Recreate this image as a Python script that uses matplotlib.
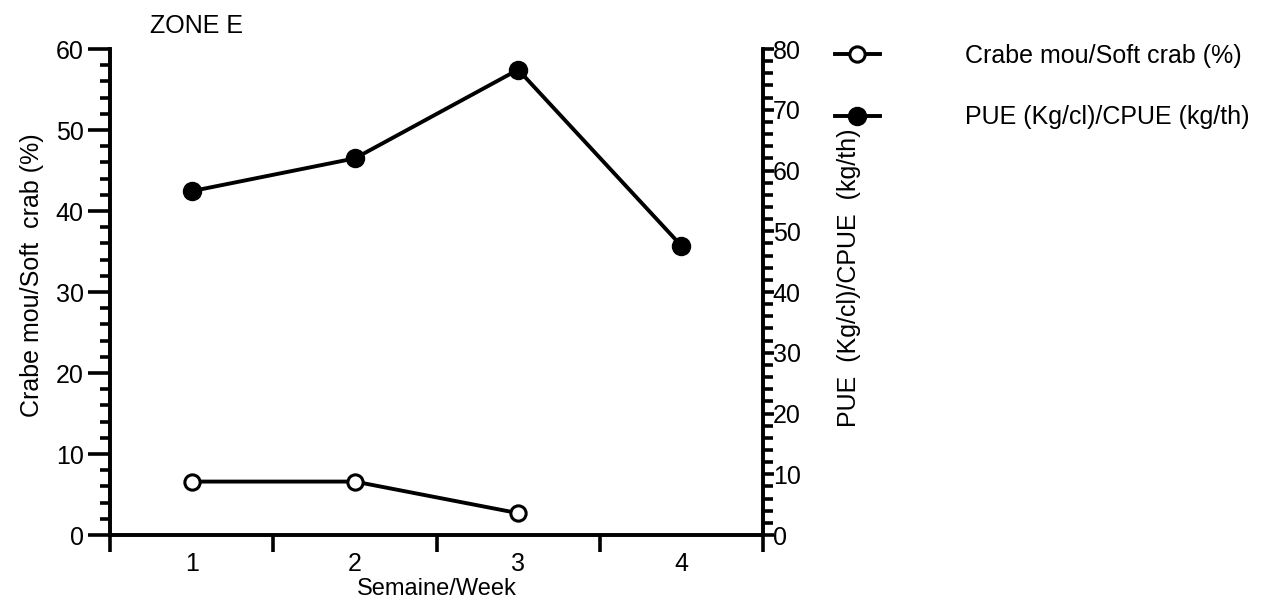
import matplotlib.pyplot as plt
from matplotlib.ticker import MultipleLocator, FixedLocator
from matplotlib.lines import Line2D

plt.rcParams['font.family'] = ['Liberation Sans', 'DejaVu Sans']

weeks = [1, 2, 3, 4]
soft_crab_weeks = [1, 2, 3]
soft_crab_pct = [6.6, 6.6, 2.7]
cpue = [56.6, 62.0, 76.6, 47.6]

fs = 18

fig = plt.figure(figsize=(12.79, 6.08), dpi=100)
ax = fig.add_axes([0.086, 0.12, 0.5106, 0.7994])
ax2 = ax.twinx()

ax.plot(soft_crab_weeks, soft_crab_pct, color='black', lw=2.8, marker='o',
        markersize=11, markerfacecolor='white', markeredgewidth=2.2, zorder=3)
ax2.plot(weeks, cpue, color='black', lw=2.8, marker='o',
         markersize=13, markerfacecolor='black', zorder=3)

ax.set_xlim(0.5, 4.5)
ax.set_ylim(0, 60)
ax2.set_ylim(0, 80)

for a in (ax, ax2):
    a.spines['top'].set_visible(False)
    for s in a.spines.values():
        s.set_linewidth(2.6)

ax.xaxis.set_major_locator(FixedLocator([0.5, 1.5, 2.5, 3.5, 4.5]))
ax.xaxis.set_minor_locator(FixedLocator(weeks))
ax.set_xticklabels([])
ax.set_xticklabels([str(w) for w in weeks], minor=True)
ax.tick_params(axis='x', which='major', length=12, width=2.6, direction='out')
ax.tick_params(axis='x', which='minor', length=0, labelsize=fs, pad=12)

ax.yaxis.set_major_locator(MultipleLocator(10))
ax.yaxis.set_minor_locator(MultipleLocator(2))
ax.tick_params(axis='y', which='major', length=16, width=2.6, labelsize=fs, pad=3)
ax.tick_params(axis='y', which='minor', length=7, width=2.6)

ax2.yaxis.set_major_locator(MultipleLocator(10))
ax2.yaxis.set_minor_locator(MultipleLocator(2))
ax2.tick_params(axis='y', which='major', length=8, width=2.6, labelsize=fs, pad=-1)
ax2.tick_params(axis='y', which='minor', length=7, width=2.6)

ax.set_xlabel('Semaine/Week', fontsize=17, labelpad=2)
ax.set_ylabel('Crabe mou/Soft  crab (%)', fontsize=fs, labelpad=8)
ax2.set_ylabel('PUE  (Kg/cl)/CPUE  (kg/th)', fontsize=fs, labelpad=26)
ax.yaxis.label.set_y(0.535)
ax2.yaxis.label.set_y(0.53)

fig.text(0.117, 0.945, 'ZONE E', fontsize=fs)

handles = [
    Line2D([], [], color='black', lw=2.8, marker='o', markersize=11,
           markerfacecolor='white', markeredgewidth=2.2),
    Line2D([], [], color='black', lw=2.8, marker='o', markersize=13,
           markerfacecolor='black'),
]
fig.legend(handles, ['Crabe mou/Soft crab (%)', 'PUE (Kg/cl)/CPUE (kg/th)'],
           loc='upper left', bbox_to_anchor=(0.635, 0.965), frameon=False,
           fontsize=fs, handlelength=1.8, labelspacing=1.5, handletextpad=3.4)

fig.savefig('out.png', dpi=100)
